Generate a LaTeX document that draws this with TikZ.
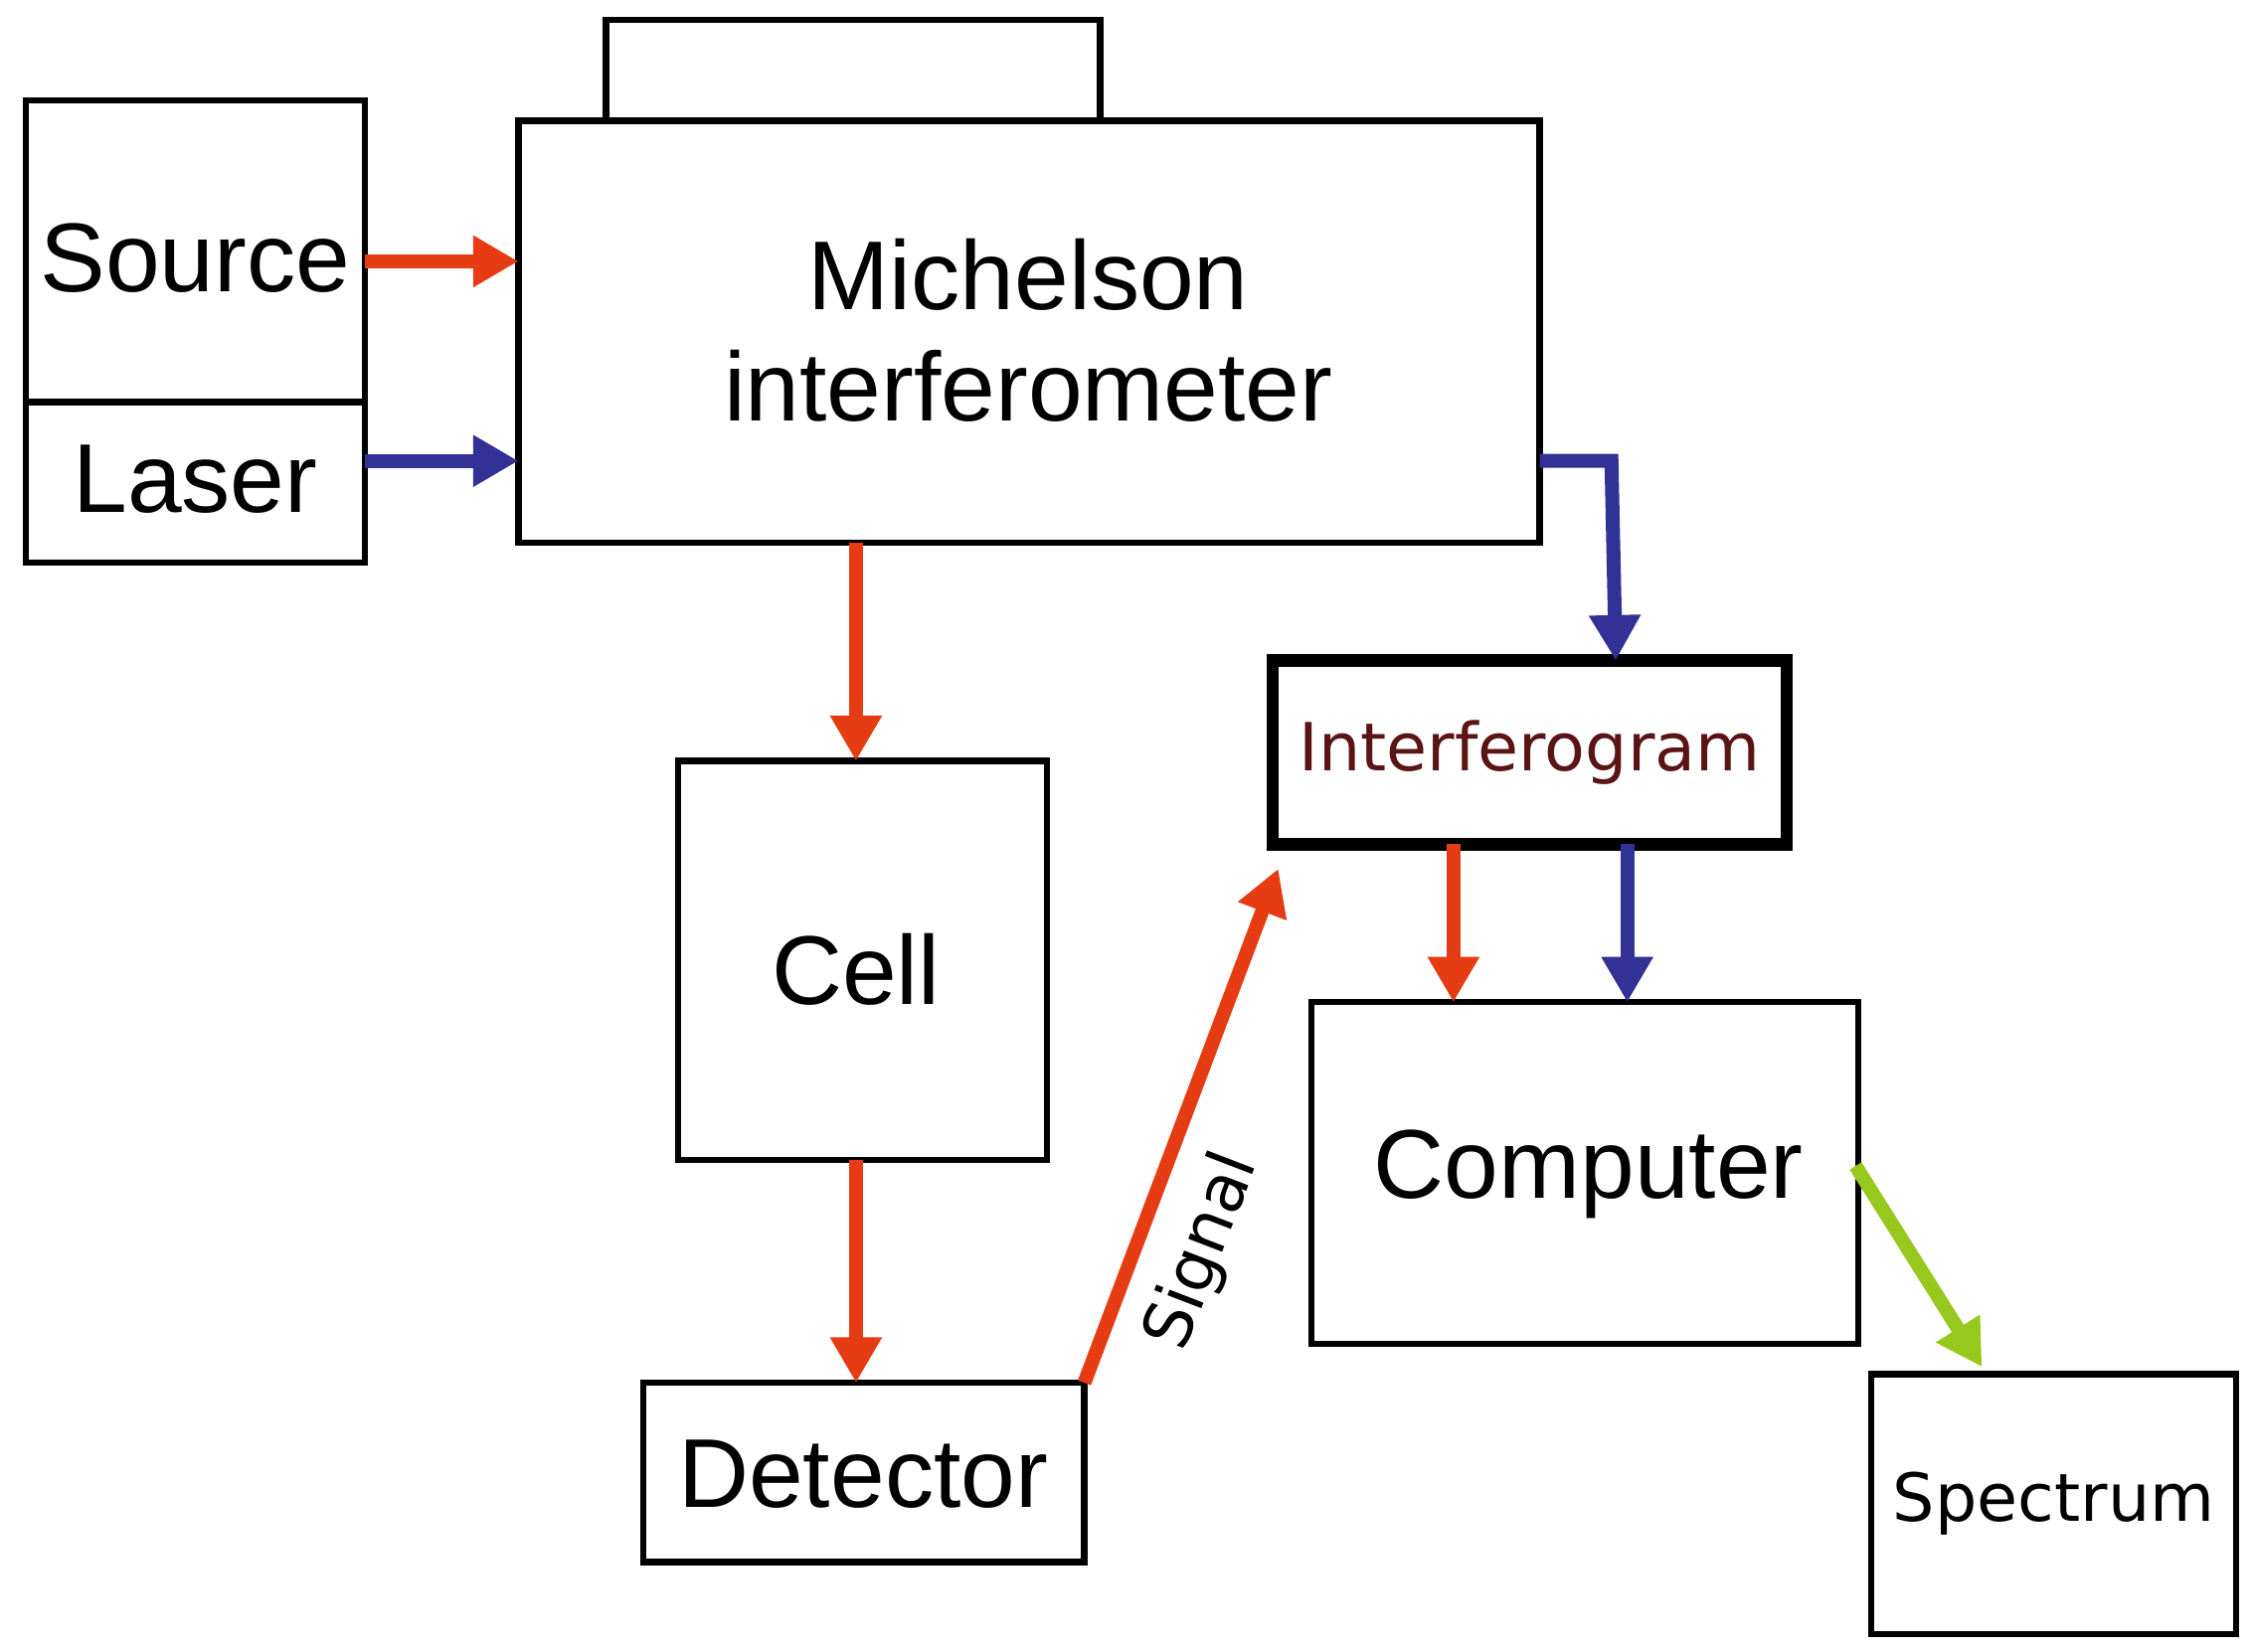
\documentclass[tikz,border=0pt]{standalone}
\usepackage{fontspec}
\setmainfont{Liberation Sans}
\newfontfamily\djv{DejaVu Sans}
\usetikzlibrary{arrows.meta}
\definecolor{ar}{RGB}{230,60,20}
\definecolor{ab}{RGB}{50,50,150}
\definecolor{ag}{RGB}{150,200,30}
\definecolor{dr}{RGB}{90,20,20}
\begin{document}
\begin{tikzpicture}[x=0.014445cm,y=-0.014445cm,
 box/.style={draw,line width=1.8pt},
 arr/.style={line width=4pt,-{Triangle[length=13pt,width=14pt]}},
 lbl/.style={font=\fontsize{28}{32}\selectfont,align=center}]
\useasboundingbox (0,0) rectangle (1568,1150);
\draw[box] (422,14) rectangle (766,84);
\draw[box] (361,84) rectangle (1072,378);
\node[lbl] (mi) at (716,230) {Michelson\\interferometer};
\draw[box] (18,70) rectangle (254,280);
\node[lbl] (so) at (136,180) {Source};
\draw[box] (18,280) rectangle (254,392);
\node[lbl] (la) at (136,334) {Laser};
\draw[box] (472,530) rectangle (729,808);
\node[lbl] (ce) at (596,675) {Cell};
\draw[box] (448,963) rectangle (755,1088);
\node[lbl] (de) at (601,1027) {Detector};
\draw[line width=3.6pt] (886,460) rectangle (1244,588);
\node[font=\djv\fontsize{19}{22}\selectfont,text=dr] (in) at (1065,524) {Interferogram};
\draw[box] (913,698) rectangle (1294,936);
\node[lbl] (co) at (1106,818) {Computer};
\draw[box] (1303,957) rectangle (1557,1138);
\node[font=\djv\fontsize{19}{22}\selectfont] (sp) at (1430,1047) {Spectrum};
\node[font=\djv\fontsize{19}{22}\selectfont,rotate=69] (sg) at (838,872) {Signal};
\coordinate (s1) at (254,182); \coordinate (s2) at (361,182);
\coordinate (l1) at (254,321); \coordinate (l2) at (361,321);
\coordinate (m1) at (596,378); \coordinate (m2) at (596,530);
\coordinate (c1) at (596,808); \coordinate (c2) at (596,963);
\coordinate (b1) at (1072,321); \coordinate (b2) at (1122,321); \coordinate (b3) at (1125,460);
\coordinate (d1) at (755,963); \coordinate (d2) at (890,605);
\coordinate (r1) at (1012,588); \coordinate (r2) at (1012,698);
\coordinate (u1) at (1133,588); \coordinate (u2) at (1133,698);
\coordinate (g1) at (1292,812); \coordinate (g2) at (1380,952);
\draw[arr,ar] (s1) -- (s2);
\draw[arr,ab] (l1) -- (l2);
\draw[arr,ar] (m1) -- (m2);
\draw[arr,ar] (c1) -- (c2);
\draw[arr,ab] (b1) -- (b2) -- (b3);
\draw[arr,ar] (d1) -- (d2);
\draw[arr,ar] (r1) -- (r2);
\draw[arr,ab] (u1) -- (u2);
\draw[arr,ag] (g1) -- (g2);
\end{tikzpicture}
\end{document}
